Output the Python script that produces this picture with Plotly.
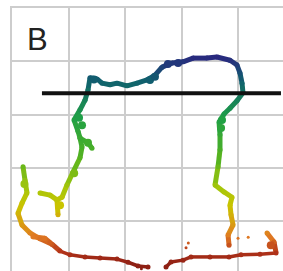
import plotly.graph_objects as go
from plotly.colors import sample_colorscale

# ---- data (grid units: one grid cell = 10 units, y grows downward) ----
# left yellow strand and bottom-left red run
left_x = [1.95, 2.3, 2.65, 1.77, 1.06, 1.77, 3.19, 4.96, 7.08, 8.5, 10.27, 12.92, 15.58, 18.58, 20.53, 22.3, 24.07]
left_y = [29.8, 32.3, 34.7, 36.6, 38.5, 40.7, 42.2, 43.3, 44.3, 45.6, 46.3, 46.7, 46.9, 47.1, 47.7, 48.4, 48.6]

# small doubled strand in the red run
loop_x = [3.7, 5.8, 6.7]
loop_y = [42.9, 43.2, 44.0]

# bottom-right red run ending in the orange hook
bottom_x = [27.26, 28.14, 30.27, 31.68, 35.04, 38.4, 40.53, 43.89, 46.73, 46.37, 45.13]
bottom_y = [48.6, 47.65, 47.3, 46.7, 46.7, 46.7, 46.3, 46.2, 45.97, 43.9, 42.2]

# yellow stub in the middle-left
stub_x = [4.96, 6.73, 7.96, 8.14]
stub_y = [34.7, 35.1, 36.0, 38.8]

# main loop: up the left, across the top, down the right
main_x = [7.96, 8.85, 9.73, 10.8, 12.04, 12.39, 12.04, 11.68, 10.97, 12.04, 12.92, 13.45, 13.8,
          15.04, 15.93, 17.35, 18.58, 20.35, 22.12, 23.89, 25.31, 26.55, 28.32, 30.27, 32.04,
          34.51, 36.28, 38.58, 39.82, 40.35, 40.71, 40.88, 39.82, 38.58, 37.52, 36.64, 36.81,
          36.81, 36.46, 35.93, 37.52, 38.94, 38.58, 38.76, 39.12, 38.23, 38.41]
main_y = [36.0, 35.5, 33.2, 30.8, 28.1, 26.1, 24.4, 23.1, 21.0, 19.1, 17.3, 15.4, 13.1,
          13.3, 14.1, 14.4, 14.1, 14.6, 14.1, 13.5, 12.6, 11.1, 10.3, 10.1, 9.4,
          9.4, 9.2, 9.8, 10.7, 12.2, 14.1, 15.9, 17.4, 18.8, 19.9, 21.4, 23.8,
          26.6, 29.8, 33.2, 34.5, 35.5, 37.0, 38.8, 40.7, 42.6, 44.5]

# small side branch off the left green strand
branch_x = [12.04, 13.45, 14.16]
branch_y = [24.4, 25.3, 26.3]

# thicker blobs along the path
blob_x = [11.86, 12.39, 13.45, 24.42, 25.3, 27.6, 29.4, 37.17, 37.0, 8.5, 2.2, 11.0, 45.8, 14.5]
blob_y = [20.6, 22.0, 25.3, 13.5, 12.9, 10.5, 10.3, 21.0, 22.5, 37.0, 33.0, 31.0, 44.5, 13.4]

# stray specks
speck_x = [40.0, 41.8, 30.8, 31.2, 22.9]
speck_y = [43.2, 43.0, 45.0, 44.1, 48.9]

# black reference line
ref_y = 16.0
ref_x = [5.3, 47.6]

panel_label = "B"
top_text = "CEO"

# ---- colour scale by height ----
cscale = [
    [0.0, "#2a2680"],
    [0.12, "#10606e"],
    [0.3, "#1fa046"],
    [0.5, "#58b41e"],
    [0.64, "#a8c60a"],
    [0.72, "#cac400"],
    [0.8, "#d8a010"],
    [0.87, "#e07a22"],
    [0.94, "#b4341a"],
    [1.0, "#8e2014"],
]
cmin, cmax = 9.0, 48.0


def colour(v):
    t = min(max((v - cmin) / (cmax - cmin), 0.0), 1.0)
    return sample_colorscale(cscale, [t])[0]


fig = go.Figure()

paths = [(left_x, left_y), (loop_x, loop_y), (bottom_x, bottom_y), (stub_x, stub_y),
         (main_x, main_y), (branch_x, branch_y)]

for xs, ys in paths:
    for i in range(len(xs) - 1):
        ym = (ys[i] + ys[i + 1]) / 2
        fig.add_trace(go.Scatter(
            x=[xs[i], xs[i + 1]], y=[ys[i], ys[i + 1]], mode="lines",
            line=dict(color=colour(ym), width=3.5 if ym > 45 else 5),
            hoverinfo="skip", showlegend=False))

all_x = sum([p[0] for p in paths], [])
all_y = sum([p[1] for p in paths], [])
fig.add_trace(go.Scatter(
    x=all_x, y=all_y, mode="markers",
    marker=dict(size=5, color=all_y, colorscale=cscale, cmin=cmin, cmax=cmax, line=dict(width=0)),
    hoverinfo="skip", showlegend=False))
fig.add_trace(go.Scatter(
    x=blob_x, y=blob_y, mode="markers",
    marker=dict(size=8, color=blob_y, colorscale=cscale, cmin=cmin, cmax=cmax, line=dict(width=0)),
    hoverinfo="skip", showlegend=False))
fig.add_trace(go.Scatter(
    x=speck_x, y=speck_y, mode="markers",
    marker=dict(size=3, color=speck_y, colorscale=cscale, cmin=cmin, cmax=cmax, line=dict(width=0)),
    hoverinfo="skip", showlegend=False))

fig.add_trace(go.Scatter(
    x=ref_x, y=[ref_y, ref_y], mode="lines",
    line=dict(color="#111111", width=4), hoverinfo="skip", showlegend=False))

fig.add_annotation(x=4.6, y=6.0, xref="x", yref="y", text=panel_label, showarrow=False,
                   font=dict(family="Liberation Sans, Arial, sans-serif", size=31, color="#222222"))
fig.add_annotation(x=16.8, y=1, xref="x", yref="paper", yanchor="bottom", yshift=3,
                   text=top_text, showarrow=False,
                   font=dict(family="Liberation Sans, Arial, sans-serif", size=20, color="#666666"))

grid = "#cdcdcd"
fig.update_xaxes(range=[0, 47.96], dtick=10, tick0=0, showticklabels=False, ticks="",
                 showgrid=True, gridcolor=grid, gridwidth=1.5, zeroline=False,
                 showline=True, linecolor=grid, linewidth=1.5, side="top", mirror=False)
fig.update_yaxes(range=[49.34, 0], dtick=10, tick0=0, showticklabels=False, ticks="",
                 showgrid=True, gridcolor=grid, gridwidth=1.5, zeroline=False,
                 showline=True, linecolor=grid, linewidth=1.5, side="left", mirror=False)

fig.update_layout(width=283, height=271, margin=dict(l=12, r=0, t=8, b=0),
                  paper_bgcolor="white", plot_bgcolor="white", showlegend=False)

fig.write_html("out.html", config={"displayModeBar": False},
               post_script="document.body.style.margin='0';document.body.style.overflow='hidden';")
